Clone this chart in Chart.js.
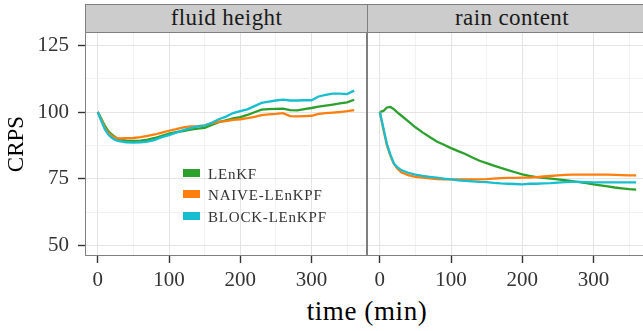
<!DOCTYPE html>
<html>
<head>
<meta charset="utf-8">
<script src="https://cdn.jsdelivr.net/npm/chart.js@4.4.1/dist/chart.umd.min.js"></script>
<style>
  html, body { margin: 0; padding: 0; background: #fff; }
  body {
    width: 643px; height: 331px; overflow: hidden; position: relative;
    font-family: 'Liberation Serif', 'DejaVu Serif', serif;
  }
  .strip {
    position: absolute; top: 4px; height: 29px; box-sizing: border-box;
    background: #cccccc; border: 1px solid #7f7f7f; color: #1a1a1a;
    font-size: 23px; line-height: 26px; text-align: center; letter-spacing: 0.4px;
  }
  .panel { position: absolute; top: 28px; }
  #xtitle {
    position: absolute; left: 217px; width: 300px; top: 298px;
    text-align: center; font-size: 27px; line-height: 26px; color: #000;
    letter-spacing: 0.6px;
  }
  #legend { position: absolute; left: 183px; top: 162px; }
  #legend .row { height: 21.5px; display: flex; align-items: center; }
  #legend .key { width: 17px; height: 8px; margin-right: 8px; }
  #legend .lbl { font-size: 15px; color: #333; letter-spacing: 0.8px; line-height: 15px; padding-top: 3px; }
</style>
</head>
<body>
<div class="strip" style="left:85px;width:283px">fluid height</div>
<div class="strip" style="left:367px;width:290px">rain content</div>
<div class="panel" style="left:0px"><canvas id="left" width="371" height="262"></canvas></div>
<div class="panel" style="left:363px"><canvas id="right" width="290" height="262"></canvas></div>
<div id="legend"></div>
<div id="xtitle">time (min)</div>
<script>
// time axis shared by every series (minutes)
const times = [0, 5, 10, 15, 20, 25, 30, 40, 50, 60, 70, 80, 90, 100, 110, 120, 130, 140, 150, 160,
  170, 180, 190, 200, 210, 220, 230, 240, 250, 260, 270, 280, 290, 300, 310, 320, 330, 340, 350, 360];

const seriesNames = ['LEnKF', 'NAIVE-LEnKPF', 'BLOCK-LEnKPF'];
const seriesColors = ['#2ca02c', '#ff7f0e', '#17becf'];

// CRPS, fluid height
const heightLEnKF = [100, 97.5, 94.8, 92.8, 91.5, 90.5, 89.8, 89.3, 89.2, 89.3, 89.7, 90.3, 91.1, 91.9,
  92.5, 92.9, 93.4, 93.8, 94.1, 95.2, 96.2, 96.9, 97.6, 98.1, 98.9, 99.9, 100.9, 101.1, 101.2, 101.3,
  100.7, 100.6, 101.1, 101.5, 102.0, 102.4, 102.8, 103.2, 103.6, 104.6];
const heightNaive = [100, 97, 94, 92.2, 91, 90.4, 90.1, 90.2, 90.3, 90.6, 91.1, 91.6, 92.3, 93.0,
  93.6, 94.3, 94.6, 94.7, 95.0, 95.8, 96.4, 96.6, 97.1, 97.3, 97.7, 98.2, 98.8, 99.1, 99.3, 99.6,
  98.5, 98.4, 98.5, 98.6, 99.3, 99.6, 99.8, 100.0, 100.3, 100.7];
const heightBlock = [100, 96.5, 93.5, 91.5, 90.3, 89.5, 89.1, 88.7, 88.6, 88.7, 88.9, 89.6, 90.6, 91.4,
  92.3, 93.2, 94.0, 94.6, 94.9, 96.0, 97.3, 98.3, 99.6, 100.3, 101.0, 102.2, 103.4, 103.9, 104.3, 104.6,
  104.3, 104.3, 104.4, 104.4, 105.8, 106.4, 106.9, 106.9, 106.7, 108.0];

// CRPS, rain content
const rainLEnKF = [100, 100.4, 101.7, 101.9, 101.0, 99.8, 98.7, 96.5, 94.3, 92.4, 90.7, 89.0, 87.8, 86.5,
  85.4, 84.3, 83.0, 81.8, 80.9, 80.0, 79.1, 78.3, 77.5, 76.7, 76.1, 75.7, 75.4, 75.1, 74.8, 74.5,
  74.2, 73.8, 73.4, 73.0, 72.6, 72.2, 71.8, 71.5, 71.2, 71.0];
const rainNaive = [100, 93.5, 87.5, 83.5, 80.5, 78.8, 77.5, 76.4, 75.8, 75.5, 75.2, 74.9, 74.8, 74.8,
  74.8, 74.8, 74.8, 74.8, 74.9, 75.1, 75.3, 75.4, 75.4, 75.5, 75.5, 75.7, 75.9, 76.1, 76.3, 76.5,
  76.6, 76.6, 76.6, 76.6, 76.6, 76.6, 76.5, 76.4, 76.3, 76.3];
const rainBlock = [100, 94, 88, 84, 80.6, 79.3, 78.3, 77.3, 76.6, 76.1, 75.8, 75.5, 75.1, 74.8,
  74.5, 74.3, 74.1, 73.9, 73.8, 73.5, 73.3, 73.2, 73.1, 73.0, 73.2, 73.2, 73.3, 73.4, 73.6, 73.8,
  73.9, 73.9, 73.8, 73.7, 73.7, 73.7, 73.7, 73.7, 73.7, 73.7];

const xMajor = [0, 100, 200, 300];
const xMinor = [50, 150, 250, 350];
const yMajor = [50, 75, 100, 125];
const yMinor = [62.5, 87.5, 112.5];

const xRange = [-18, 378];
const yRange = [46.2, 129.9];

const FONT = "'Liberation Serif', 'DejaVu Serif', serif";
const GRID_MAJOR = '#e4e4e4';
const GRID_MINOR = '#f2f2f2';

// panel border drawn over the data, like a ggplot panel
const panelFrame = {
    id: 'panelFrame',
    afterDatasetsDraw(chart) {
        const a = chart.chartArea;
        const ctx = chart.ctx;
        ctx.save();
        ctx.strokeStyle = '#7f7f7f';
        ctx.lineWidth = 1;
        ctx.strokeRect(a.left + 0.5, a.top + 0.5, a.right - a.left - 1, a.bottom - a.top - 1);
        ctx.restore();
    },
};

function gridTicks(major, minor) {
    return function (scale) {
        scale.ticks = major.concat(minor).sort(function (a, b) { return a - b; })
            .map(function (v) { return { value: v }; });
    };
}

// fixed axis sizes; drop the label overhang padding so panels line up
function fixSize(prop, size) {
    return function (s) {
        s[prop] = size;
        s.paddingTop = 0;
        s.paddingBottom = 0;
        s.paddingLeft = 0;
        s.paddingRight = 0;
    };
}

function makeDatasets(values) {
    return values.map(function (vals, i) {
        return {
            label: seriesNames[i],
            data: times.map(function (t, j) { return { x: t, y: vals[j] }; }),
            borderColor: seriesColors[i],
            borderWidth: 2.3,
            pointRadius: 0,
            tension: 0,
            fill: false,
            order: 2 - i,
        };
    });
}

function makeChart(id, values, showY) {
    const tickFont = { family: FONT, size: 21 };
    return new Chart(document.getElementById(id), {
        type: 'line',
        data: { datasets: makeDatasets(values) },
        plugins: [panelFrame],
        options: {
            responsive: false,
            animation: false,
            devicePixelRatio: 1,
            layout: { padding: { top: 4, right: 4, bottom: 0, left: showY ? 0 : 4 } },
            plugins: { legend: { display: false }, tooltip: { enabled: false } },
            scales: {
                x: {
                    type: 'linear',
                    min: xRange[0],
                    max: xRange[1],
                    afterBuildTicks: gridTicks(xMajor, xMinor),
                    afterFit: fixSize('height', 34),
                    border: { display: false },
                    grid: {
                        color: function (c) { return c.tick && xMajor.includes(c.tick.value) ? GRID_MAJOR : GRID_MINOR; },
                        tickColor: function (c) { return c.tick && xMajor.includes(c.tick.value) ? '#333333' : 'rgba(0,0,0,0)'; },
                        tickLength: 7,
                        tickWidth: 1.4,
                    },
                    ticks: {
                        autoSkip: false,
                        maxRotation: 0,
                        padding: 5,
                        color: '#333333',
                        font: tickFont,
                        callback: function (v) { return xMajor.includes(v) ? String(v) : ''; },
                    },
                },
                y: {
                    type: 'linear',
                    min: yRange[0],
                    max: yRange[1],
                    afterBuildTicks: gridTicks(yMajor, yMinor),
                    afterFit: fixSize('width', showY ? 85 : 0),
                    border: { display: false },
                    title: {
                        display: showY,
                        text: 'CRPS',
                        color: '#000',
                        font: { family: FONT, size: 23 },
                        padding: { top: 3, bottom: 0 },
                    },
                    grid: {
                        color: function (c) { return c.tick && yMajor.includes(c.tick.value) ? GRID_MAJOR : GRID_MINOR; },
                        tickColor: function (c) { return c.tick && yMajor.includes(c.tick.value) ? '#333333' : 'rgba(0,0,0,0)'; },
                        drawTicks: showY,
                        tickLength: 7,
                        tickWidth: 1.4,
                    },
                    ticks: {
                        display: showY,
                        autoSkip: false,
                        padding: 9,
                        color: '#333333',
                        font: tickFont,
                        callback: function (v) { return yMajor.includes(v) ? String(v) : ''; },
                    },
                },
            },
        },
    });
}

makeChart('left', [heightLEnKF, heightNaive, heightBlock], true);
makeChart('right', [rainLEnKF, rainNaive, rainBlock], false);

// legend inside the first panel
const legend = document.getElementById('legend');
seriesNames.forEach(function (name, i) {
    const row = document.createElement('div');
    row.className = 'row';
    const key = document.createElement('span');
    key.className = 'key';
    key.style.background = seriesColors[i];
    const lbl = document.createElement('span');
    lbl.className = 'lbl';
    lbl.textContent = name;
    row.appendChild(key);
    row.appendChild(lbl);
    legend.appendChild(row);
});
</script>
</body>
</html>
